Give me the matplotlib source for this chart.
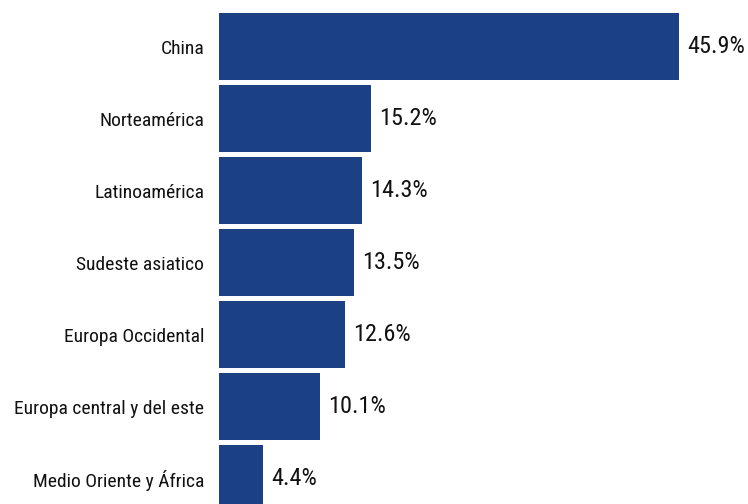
import matplotlib.pyplot as plt
import numpy as np

regions = ["China", "Norteamérica", "Latinoamérica", "Sudeste asiatico",
           "Europa Occidental", "Europa central y del este", "Medio Oriente y África"]
shares = [45.9, 15.2, 14.3, 13.5, 12.6, 10.1, 4.4]

plt.rcParams['font.family'] = ['Roboto Condensed', 'Liberation Sans Narrow', 'Roboto', 'DejaVu Sans']

fig = plt.figure(figsize=(7.48, 5.04), dpi=100)
ax = fig.add_axes([219 / 748, 0, 529 / 748, 1])

pos = np.arange(len(regions))
ax.barh(pos, shares, height=0.93, color="#1b4184")

# value labels just right of each bar
for y, v in zip(pos, shares):
    ax.text(v + 0.8, y, f"{v}%", va="center", ha="left", fontsize=17.5, color="#111111")

ax.set_yticks(pos)
ax.set_yticklabels(regions, fontsize=14, color="#111111")
ax.tick_params(axis="y", length=0, pad=10.8)
ax.set_xticks([])
ax.set_xlim(0, 52.8)
ax.set_ylim(6.354, -0.646)
for s in ax.spines.values():
    s.set_visible(False)

plt.savefig("out.png", dpi=100)
